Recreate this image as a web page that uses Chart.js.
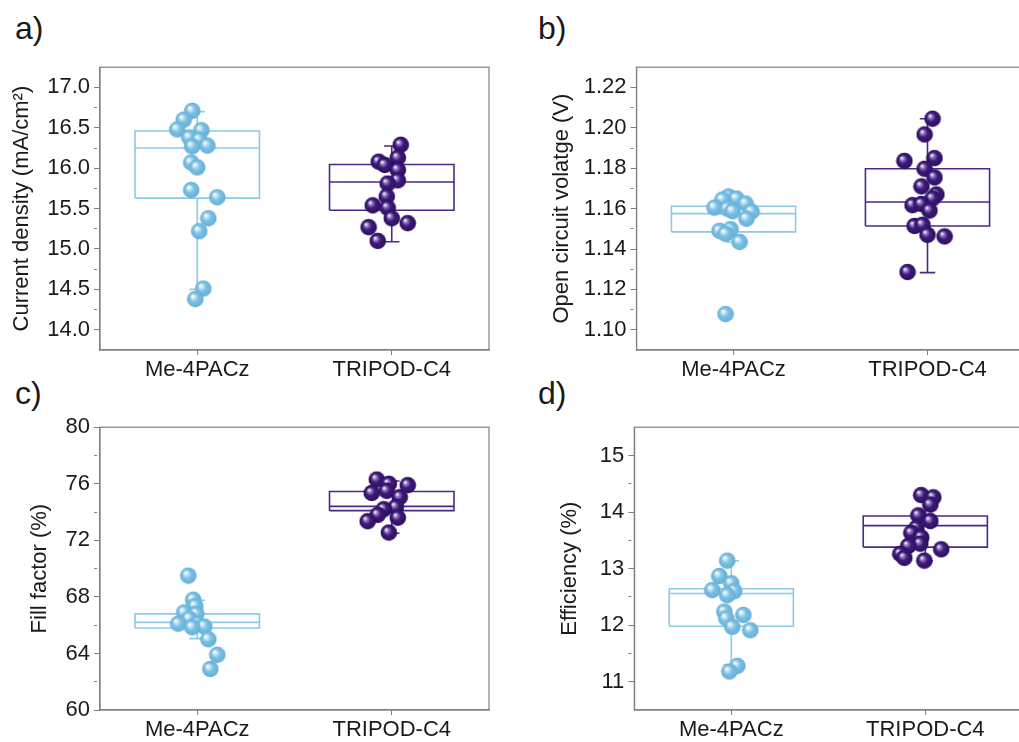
<!DOCTYPE html>
<html>
<head>
<meta charset="utf-8">
<script src="https://cdn.jsdelivr.net/npm/chart.js@4/dist/chart.umd.min.js"></script>
<style>
  html, body { margin: 0; padding: 0; background: #fff; overflow: hidden; }
  body { width: 1019px; height: 742px; position: relative; font-family: "Liberation Sans", Arial, sans-serif; }
  canvas { position: absolute; }
  .tag { position: absolute; font-size: 32px; line-height: 32px; color: #1a1a1a; }
</style>
</head>
<body>
<div class="tag" style="left:15px; top:12px">a)</div>
<div class="tag" style="left:538px; top:12px">b)</div>
<div class="tag" style="left:15px; top:377px">c)</div>
<div class="tag" style="left:538px; top:377px">d)</div>
<canvas id="chartA" width="520" height="360" style="left:0; top:50px"></canvas>
<canvas id="chartB" width="560" height="360" style="left:520px; top:50px"></canvas>
<canvas id="chartC" width="520" height="332" style="left:0; top:410px"></canvas>
<canvas id="chartD" width="560" height="332" style="left:520px; top:410px"></canvas>
<script>
const groups = ['Me-4PACz', 'TRIPOD-C4'];

// box stats: [lower whisker, q1, median, q3, upper whisker]
// jitter = horizontal offset of each dot from its category (category units)

// a) current density
const jscTicks = [14.0, 14.5, 15.0, 15.5, 16.0, 16.5, 17.0];
const jscMe = [16.71, 16.60, 16.48, 16.47, 16.38, 16.35, 16.27, 16.28, 16.07, 16.01, 15.73, 15.64, 15.38, 15.22, 14.51, 14.38];
const jscMeJit = [-0.026, -0.07, -0.103, 0.021, -0.041, 0.01, -0.026, 0.052, -0.031, 0.0, -0.031, 0.103, 0.057, 0.010, 0.031, -0.010];
const jscTri = [16.29, 16.13, 16.08, 16.04, 15.98, 15.85, 15.81, 15.65, 15.54, 15.51, 15.38, 15.32, 15.27, 15.10];
const jscTriJit = [0.046, 0.031, -0.067, -0.036, 0.031, 0.031, -0.021, -0.026, -0.098, -0.021, 0.0, 0.082, -0.119, -0.072];
const jscMeBox = [14.50, 15.63, 16.25, 16.46, 16.70];
const jscTriBox = [15.09, 15.48, 15.83, 16.045, 16.275];

// b) open circuit voltage
const vocTicks = [1.10, 1.12, 1.14, 1.16, 1.18, 1.20, 1.22];
const vocMe = [1.1660, 1.1650, 1.1645, 1.1625, 1.1605, 1.1600, 1.1587, 1.1585, 1.1550, 1.1490, 1.1498, 1.1475, 1.1435, 1.1078];
const vocMeJit = [-0.026, 0.015, -0.057, 0.062, -0.098, -0.031, -0.005, 0.093, 0.067, -0.072, -0.015, -0.041, 0.031, -0.041];
const vocTri = [1.2045, 1.1967, 1.1836, 1.1850, 1.1797, 1.1754, 1.1710, 1.1670, 1.1650, 1.1617, 1.1623, 1.1590, 1.1514, 1.1520, 1.1470, 1.1462, 1.1286];
const vocTriJit = [0.026, -0.015, -0.119, 0.036, -0.015, 0.036, -0.031, 0.046, 0.026, -0.077, -0.031, 0.010, -0.067, -0.026, 0.0, 0.088, -0.103];
const vocMeBox = [1.1435, 1.1485, 1.1575, 1.1612, 1.1660];
const vocTriBox = [1.1283, 1.1514, 1.1633, 1.1797, 1.2045];

// c) fill factor
const ffTicks = [60, 64, 68, 72, 76, 80];
const ffMe = [69.5, 67.8, 67.35, 66.9, 66.8, 66.45, 66.1, 66.1, 65.9, 65.85, 65.0, 63.9, 62.9];
const ffMeJit = [-0.046, -0.021, -0.010, -0.067, -0.005, -0.041, -0.098, 0.0, 0.036, -0.026, 0.057, 0.103, 0.067];
const ffTri = [76.3, 76.0, 75.9, 75.35, 75.5, 75.05, 74.35, 74.2, 73.8, 73.6, 73.35, 72.55];
const ffTriJit = [-0.077, -0.015, 0.082, -0.103, -0.026, 0.041, 0.021, -0.041, -0.072, 0.031, -0.124, -0.015];
const ffMeBox = [65.05, 65.8, 66.2, 66.8, 67.76];
const ffTriBox = [72.5, 74.1, 74.4, 75.45, 76.2];

// d) efficiency
const pceTicks = [11, 12, 13, 14, 15];
const pceMe = [13.14, 12.87, 12.74, 12.62, 12.60, 12.53, 12.24, 12.18, 12.12, 11.97, 11.91, 11.28, 11.18];
const pceMeJit = [-0.021, -0.062, 0.0, -0.098, 0.015, -0.021, -0.036, 0.062, -0.026, 0.005, 0.098, 0.031, -0.010];
const pceTri = [14.30, 14.26, 14.13, 13.94, 13.84, 13.72, 13.63, 13.55, 13.44, 13.40, 13.34, 13.26, 13.19, 13.14];
const pceTriJit = [-0.021, 0.041, 0.026, -0.036, 0.026, -0.046, -0.072, -0.021, -0.026, -0.088, 0.082, -0.129, -0.108, -0.005];
const pceMeBox = [11.30, 11.98, 12.56, 12.645, 13.14];
const pceTriBox = [13.14, 13.38, 13.76, 13.93, 14.28];

const blueLine = '#8ccae8';
const purpleLine = '#4b2a86';
const axisGray = '#808080';
const boxHalf = 0.32;
const capHalf = 0.04;

// shaded ball used as the point style
function makeBall(base, edge, glow) {
    const r = 8.3;
    const c = document.createElement('canvas');
    c.width = 18; c.height = 18;
    const g = c.getContext('2d');
    const grad = g.createRadialGradient(6.2, 6.0, 0.3, 9, 9, r);
    grad.addColorStop(0, '#ffffff');
    grad.addColorStop(0.2, glow);
    grad.addColorStop(0.5, base);
    grad.addColorStop(1, edge);
    g.fillStyle = grad;
    g.beginPath();
    g.arc(9, 9, r, 0, Math.PI * 2);
    g.fill();
    return c;
}
const blueBall = makeBall('#7cc0e4', '#66afd7', '#c9e7f6');
const purpleBall = makeBall('#3e1b7a', '#2c0f5e', '#9a82c6');

function dots(values, jitter, center) {
    return values.map((v, i) => ({ x: center + jitter[i], y: v }));
}

function boxOutline(stats, center) {
    const [lo, q1, med, q3, hi] = stats;
    const l = center - boxHalf, r = center + boxHalf;
    const gap = { x: center, y: null };
    return [
        { x: l, y: q1 }, { x: r, y: q1 }, { x: r, y: q3 }, { x: l, y: q3 }, { x: l, y: q1 }, gap,
        { x: l, y: med }, { x: r, y: med }, gap,
        { x: center, y: q3 }, { x: center, y: hi }, gap,
        { x: center - capHalf, y: hi }, { x: center + capHalf, y: hi }, gap,
        { x: center, y: q1 }, { x: center, y: lo }, gap,
        { x: center - capHalf, y: lo }, { x: center + capHalf, y: lo }
    ];
}

const framePlugin = {
    id: 'frame',
    beforeDatasetsDraw(chart) {
        const a = chart.chartArea;
        const ctx = chart.ctx;
        ctx.save();
        ctx.strokeStyle = axisGray;
        ctx.lineWidth = 1.2;
        ctx.strokeRect(a.left, a.top, a.right - a.left, a.bottom - a.top);
        ctx.restore();
    }
};

function buildPanel(id, opt) {
    const majors = opt.ticks;
    const minors = [];
    for (let i = 0; i < majors.length - 1; i++) minors.push((majors[i] + majors[i + 1]) / 2);
    const allTicks = majors.concat(minors).sort((p, q) => p - q);
    const isMajor = v => majors.some(m => Math.abs(m - v) < 1e-9);

    new Chart(document.getElementById(id), {
        type: 'scatter',
        data: {
            datasets: [
                { data: dots(opt.me, opt.meJit, 1), pointStyle: blueBall, order: 0 },
                { data: dots(opt.tri, opt.triJit, 2), pointStyle: purpleBall, order: 0 },
                { data: boxOutline(opt.meBox, 1), showLine: true, spanGaps: false, pointRadius: 0,
                  borderColor: blueLine, borderWidth: 1.6, tension: 0, order: 1 },
                { data: boxOutline(opt.triBox, 2), showLine: true, spanGaps: false, pointRadius: 0,
                  borderColor: purpleLine, borderWidth: 1.6, tension: 0, order: 1 }
            ]
        },
        options: {
            responsive: false,
            animation: false,
            clip: false,
            layout: { padding: opt.pad },
            plugins: { legend: { display: false }, tooltip: { enabled: false } },
            scales: {
                x: {
                    type: 'linear', min: 0.5, max: 2.5,
                    afterBuildTicks: s => { s.ticks = [{ value: 1 }, { value: 2 }]; },
                    afterFit: s => { s.height = opt.xHeight; },
                    ticks: {
                        callback: v => groups[Math.round(v) - 1],
                        color: '#1a1a1a', padding: 2, maxRotation: 0,
                        font: { family: 'Liberation Sans', size: 22 }
                    },
                    grid: { display: true, drawOnChartArea: false, tickLength: 5, color: axisGray },
                    border: { color: axisGray, width: 1.2 }
                },
                y: {
                    min: opt.min, max: opt.max,
                    afterBuildTicks: s => { s.ticks = allTicks.map(v => ({ value: v })); },
                    afterFit: s => { s.width = opt.yWidth; },
                    ticks: {
                        callback: v => isMajor(v) ? v.toFixed(opt.digits) : '',
                        color: '#1a1a1a', padding: 4, autoSkip: false,
                        font: { family: 'Liberation Sans', size: 22 }
                    },
                    grid: {
                        display: true, drawOnChartArea: false, tickLength: 6, color: axisGray,
                        tickBorderDash: c => (c.tick && isMajor(c.tick.value)) ? [] : [3, 20]
                    },
                    border: { color: axisGray, width: 1.2 },
                    title: {
                        display: true, text: opt.title, color: '#1a1a1a',
                        font: { family: 'Liberation Sans', size: 22 },
                        padding: { top: opt.titlePad, bottom: 0 }
                    }
                }
            }
        },
        plugins: [framePlugin]
    });
}

buildPanel('chartA', {
    ticks: jscTicks, min: 13.75, max: 17.25, digits: 1, title: 'Current density (mA/cm\u00B2)',
    me: jscMe, meJit: jscMeJit, tri: jscTri, triJit: jscTriJit, meBox: jscMeBox, triBox: jscTriBox,
    pad: { left: 0, top: 15, right: 31, bottom: 10 }, xHeight: 50, yWidth: 100, titlePad: 9
});
buildPanel('chartB', {
    ticks: vocTicks, min: 1.09, max: 1.23, digits: 2, title: 'Open circuit volatge (V)',
    me: vocMe, meJit: vocMeJit, tri: vocTri, triJit: vocTriJit, meBox: vocMeBox, triBox: vocTriBox,
    pad: { left: 0, top: 15, right: 55.5, bottom: 10 }, xHeight: 50, yWidth: 116.5, titlePad: 29
});
buildPanel('chartC', {
    ticks: ffTicks, min: 60, max: 80, digits: 0, title: 'Fill factor (%)',
    me: ffMe, meJit: ffMeJit, tri: ffTri, triJit: ffTriJit, meBox: ffMeBox, triBox: ffTriBox,
    pad: { left: 0, top: 14, right: 31, bottom: 2 }, xHeight: 30, yWidth: 100, titlePad: 27
});
buildPanel('chartD', {
    ticks: pceTicks, min: 10.5, max: 15.5, digits: 0, title: 'Efficiency (%)',
    me: pceMe, meJit: pceMeJit, tri: pceTri, triJit: pceTriJit, meBox: pceMeBox, triBox: pceTriBox,
    pad: { left: 0, top: 15, right: 57.7, bottom: 2 }, xHeight: 30, yWidth: 114.3, titlePad: 37
});
</script>
</body>
</html>
